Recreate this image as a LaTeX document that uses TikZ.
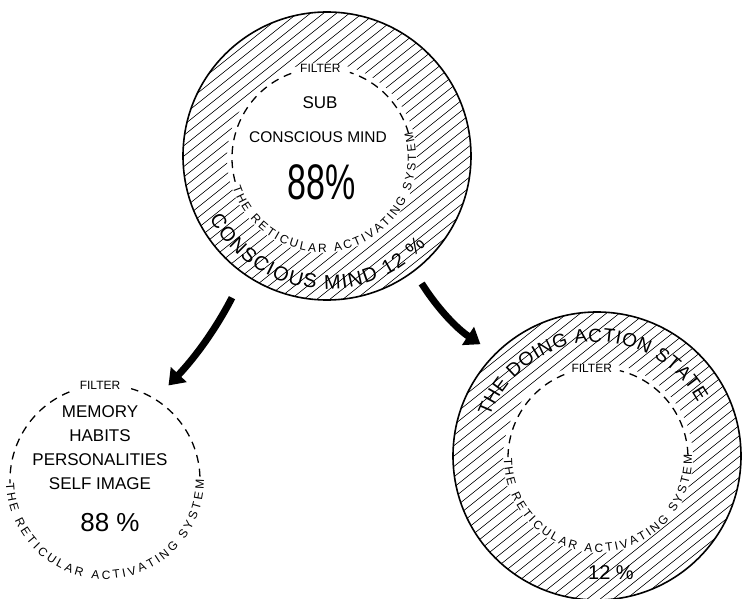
\documentclass[tikz,border=0pt]{standalone}
\usepackage{fontspec}
\setmainfont{Liberation Sans}
\usetikzlibrary{arrows.meta,decorations.text,calc}

\begin{document}
\begin{tikzpicture}[x=1pt,y=1pt,
  ring/.style={circle,draw,line width=1.6pt,inner sep=0pt,minimum size=288pt},
  hatchline/.style={line width=0.6pt},
  filterline/.style={line width=1.3pt,dash pattern=on 8pt off 6pt},
  bigarrow/.style={line width=7pt,-{Triangle[length=15pt,width=21pt]}},
  handtext/.style={font=\fontsize{#1}{#1}\selectfont,inner sep=1pt}]
\useasboundingbox (0,0) rectangle (742,598);

% conscious / subconscious mind
\coordinate (mindc) at (327,442);
\coordinate (mindcore) at (322,440);
\begin{scope}[even odd rule]
\clip (mindc) circle[radius=144] (mindcore) circle[radius=95];
\foreach \k in {-22,...,22}
  \draw[hatchline] ($(mindc)+(\k*13,0)+(-200,-160)$) -- ++(400,320);
\end{scope}
\node[ring] (mind) at (mindc) {};
\draw[filterline] ($(mindcore)+(16:90)$) arc[start angle=16,end angle=72,radius=90];
\draw[filterline] ($(mindcore)+(110:90)$) arc[start angle=110,end angle=198,radius=90];
\node[handtext=12] (mindfilter) at ($(mindcore)+(91:90)$) {FILTER};
\path[decorate,decoration={text along path,text align=fit to path,
  text={|\fontsize{12}{12}\selectfont|THE RETICULAR ACTIVATING SYSTEM}}]
  ($(mindcore)+(198:94)$) arc[start angle=198,end angle=376,radius=94];
\path[decorate,decoration={text along path,text align=fit to path,
  text={|\fontsize{20}{20}\selectfont|CONSCIOUS MIND 12 {\%}}}]
  ($(mindc)+(208:133)$) arc[start angle=208,end angle=318,radius=133];
\node[handtext=17] (sub) at (320,495) {SUB};
\node[handtext=15.5] (submind) at (318,461) {CONSCIOUS MIND};
\node (subshare) at (322,416) {\scalebox{0.68}[1]{\fontsize{50}{50}\selectfont 88\%}};

% memory
\node[circle,inner sep=0pt,minimum size=190pt] (memory) at (105,118) {};
\draw[filterline] ($(memory.center)+(2:95)$) arc[start angle=2,end angle=74,radius=95];
\draw[filterline] ($(memory.center)+(112:95)$) arc[start angle=112,end angle=182,radius=95];
\node[handtext=12] (memfilter) at ($(memory.center)+(93:95)$) {FILTER};
\path[decorate,decoration={text along path,text align=fit to path,
  text={|\fontsize{12}{12}\selectfont|THE RETICULAR ACTIVATING SYSTEM}}]
  ($(memory.center)+(182:99)$) arc[start angle=182,end angle=360,radius=99];
\node[font=\fontsize{17}{24}\selectfont,align=center] (memlist) at (100,150)
  {MEMORY\\HABITS\\PERSONALITIES\\SELF IMAGE};
\node[handtext=26] (memshare) at (110,75) {88 \%};

% doing action state
\coordinate (doingc) at (597,142);
\coordinate (doingcore) at (598,140);
\begin{scope}[even odd rule]
\clip (doingc) circle[radius=144] (doingcore) circle[radius=95];
\foreach \k in {-22,...,22}
  \draw[hatchline] ($(doingc)+(\k*13,0)+(-200,-160)$) -- ++(400,320);
\end{scope}
\node[ring] (doing) at (doingc) {};
\draw[filterline] ($(doingcore)+(2:90)$) arc[start angle=2,end angle=76,radius=90];
\draw[filterline] ($(doingcore)+(112:90)$) arc[start angle=112,end angle=180,radius=90];
\node[handtext=12] (doingfilter) at ($(doingcore)+(94:90)$) {FILTER};
\path[decorate,decoration={text along path,text align=fit to path,
  text={|\fontsize{12}{12}\selectfont|THE RETICULAR ACTIVATING SYSTEM}}]
  ($(doingcore)+(180:94)$) arc[start angle=180,end angle=362,radius=94];
\path[decorate,decoration={text along path,text align=fit to path,
  text={|\fontsize{19}{19}\selectfont|THE DOING ACTION STATE}}]
  ($(doingc)+(160:114)$) arc[start angle=160,end angle=28,radius=114];
\node[handtext=20] (doingshare) at (611,25) {12 \%};

% arrows
\draw[bigarrow,shorten <=26pt,shorten >=19pt] (mind.235) to[bend left=8] (memory.58);
\draw[bigarrow,shorten <=14pt,shorten >=17pt] (mind.307) to[bend right=12] (doing.135);
\end{tikzpicture}
\end{document}
